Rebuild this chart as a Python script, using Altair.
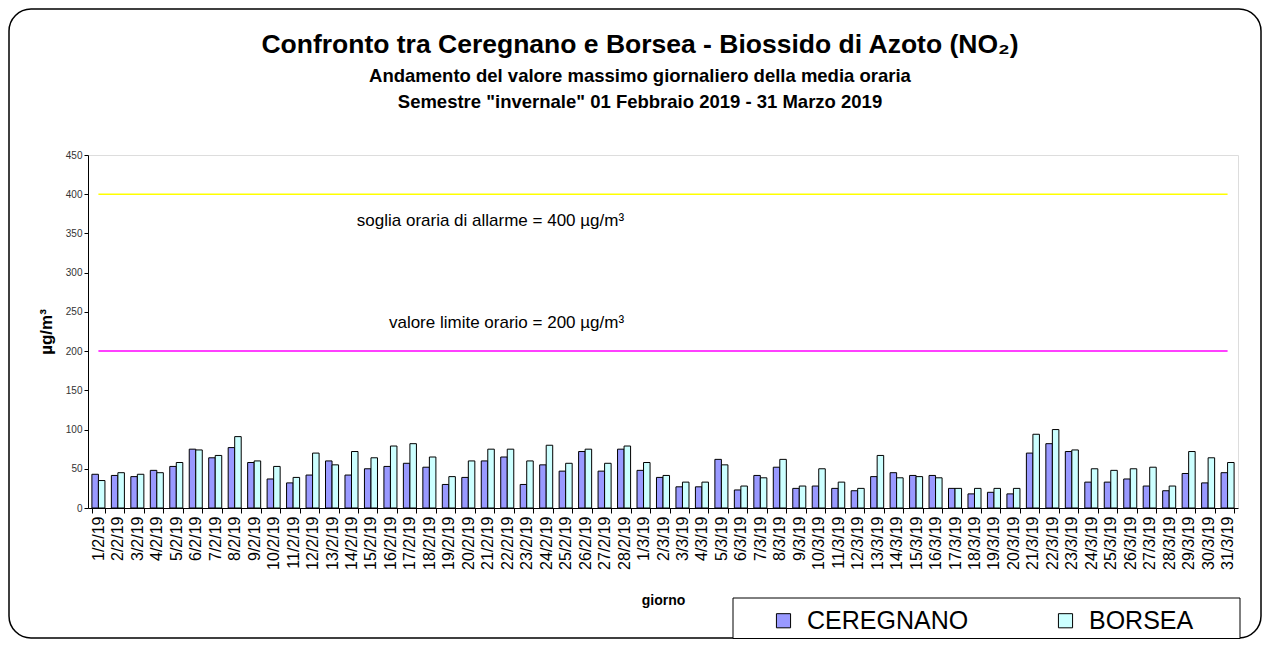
import altair as alt
import pandas as pd

days = ["1/2/19", "2/2/19", "3/2/19", "4/2/19", "5/2/19", "6/2/19", "7/2/19", "8/2/19", "9/2/19", "10/2/19",
        "11/2/19", "12/2/19", "13/2/19", "14/2/19", "15/2/19", "16/2/19", "17/2/19", "18/2/19", "19/2/19", "20/2/19",
        "21/2/19", "22/2/19", "23/2/19", "24/2/19", "25/2/19", "26/2/19", "27/2/19", "28/2/19",
        "1/3/19", "2/3/19", "3/3/19", "4/3/19", "5/3/19", "6/3/19", "7/3/19", "8/3/19", "9/3/19", "10/3/19",
        "11/3/19", "12/3/19", "13/3/19", "14/3/19", "15/3/19", "16/3/19", "17/3/19", "18/3/19", "19/3/19", "20/3/19",
        "21/3/19", "22/3/19", "23/3/19", "24/3/19", "25/3/19", "26/3/19", "27/3/19", "28/3/19", "29/3/19", "30/3/19",
        "31/3/19"]

ceregnano = [43, 41.5, 40, 48, 53, 75, 64, 77, 58, 37,
             32, 42, 60, 42, 50, 53, 57, 52, 30, 39,
             60, 65, 30, 55, 47, 72, 47, 75,
             48, 39, 27, 27, 62, 23, 41.5, 52, 25, 28,
             25, 22, 40, 45, 41.5, 41.5, 25, 18, 20, 18,
             70, 82, 72, 33, 33, 37, 28, 22, 44, 32,
             45]

borsea = [35, 45, 43, 45, 58, 74, 67, 91, 60, 53,
          39, 70, 55, 72, 64, 79, 82, 65, 40, 60,
          75, 75, 60, 80, 57, 75, 57, 79,
          58, 41.5, 33, 33, 55, 28, 38.5, 62, 28, 50,
          33, 25, 67, 38.5, 40, 38.5, 25, 25, 25, 25,
          94, 100, 74, 50, 48, 50, 52, 28, 72, 64,
          58]

series = ["CEREGNANO", "BORSEA"]
colors = ["#9999FF", "#CCFFFF"]

thresholds = [400, 200]
threshold_colors = ["#FFFF00", "#FF00FF"]
annotations = ["soglia oraria di allarme = 400 µg/m³", "valore limite orario = 200 µg/m³"]
annotation_y = [366, 236]
annotation_day = "28/2/19"
y_ticks = [0, 50, 100, 150, 200, 250, 300, 350, 400, 450]

rows = []
for d, c, b in zip(days, ceregnano, borsea):
    rows.append({"giorno": d, "stazione": series[0], "valore": c})
    rows.append({"giorno": d, "stazione": series[1], "valore": b})
df = pd.DataFrame(rows)

thr_rows = []
for t, col in zip(thresholds, threshold_colors):
    thr_rows.append({"giorno": days[0], "valore": t, "col": col, "id": str(t)})
    thr_rows.append({"giorno": days[-1], "valore": t, "col": col, "id": str(t)})
thr_df = pd.DataFrame(thr_rows)

ann_df = pd.DataFrame({"giorno": [annotation_day] * 2, "valore": annotation_y, "testo": annotations})

W, H = 1150, 353
FONT = "Liberation Sans"

xscale = alt.Scale(domain=days, paddingInner=0.33, paddingOuter=0.2)
yscale = alt.Scale(domain=[0, 450])

xaxis = alt.Axis(title="giorno", labelAngle=-90, labelFontSize=16, labelColor="black",
                 tickBand="extent", tickSize=5, tickColor="black", domainColor="black",
                 titleFontSize=14, titleFontWeight="bold", titlePadding=24, titleColor="black",
                 labelPadding=3, labelFont=FONT, titleFont=FONT, labelOverlap=False)
yaxis = alt.Axis(title="µg/m³", values=y_ticks, grid=False, labelOverlap=False,
                 labelFontSize=10, labelColor="#333333", tickSize=4, tickColor="black",
                 domainColor="black", titleFontSize=17, titleFontWeight="bold",
                 titlePadding=10, labelFont=FONT, titleFont=FONT, titleColor="black")

X = alt.X("giorno:N", scale=xscale, sort=days, axis=xaxis)
Y = alt.Y("valore:Q", scale=yscale, axis=yaxis)

bars = alt.Chart(df).mark_bar(stroke="black", strokeWidth=1).encode(
    x=X,
    xOffset=alt.XOffset("stazione:N", sort=series, scale=alt.Scale(paddingInner=0, paddingOuter=0)),
    y=Y,
    fill=alt.Fill("stazione:N", sort=series, scale=alt.Scale(domain=series, range=colors),
                  legend=alt.Legend(title=None, orient="none", legendX=683, legendY=453,
                                    direction="horizontal", columns=2, columnPadding=84,
                                    symbolType="square", symbolSize=200, symbolStrokeColor="black",
                                    symbolStrokeWidth=1, labelFontSize=25, labelFont=FONT,
                                    labelColor="black", labelOffset=11, padding=0,
                                    labelLimit=300)),
)

lines = alt.Chart(thr_df).mark_line(strokeWidth=1.5).encode(
    x=X, y=Y,
    detail="id:N",
    color=alt.Color("col:N", scale=None),
)

texts = alt.Chart(ann_df).mark_text(align="right", baseline="middle", fontSize=17, font=FONT,
                                    color="black").encode(
    x=X, y=Y,
    text="testo:N",
)

legend_box = alt.Chart(alt.Data(values=[{"a": 1}])).mark_rect(
    fill="white", stroke="black", strokeWidth=1).encode(
    x=alt.value(645), x2=alt.value(1152), y=alt.value(443), y2=alt.value(483.5))

outer = alt.Chart(alt.Data(values=[{"a": 1}])).mark_rect(
    filled=False, stroke="black", strokeWidth=1.5, cornerRadius=22).encode(
    x=alt.value(-79), x2=alt.value(1173), y=alt.value(-146), y2=alt.value(483))

chart = alt.layer(bars, outer, legend_box, lines, texts).properties(
    width=W, height=H,
    title=alt.TitleParams(
        text="Confronto tra Ceregnano e Borsea - Biossido di Azoto (NO₂)",
        subtitle=["Andamento del valore massimo giornaliero della media oraria",
                  "Semestre \"invernale\" 01 Febbraio 2019 - 31 Marzo 2019"],
        anchor="middle", frame="group", fontSize=26.5, font=FONT, fontWeight="bold", color="black",
        subtitleFont=FONT, subtitleFontSize=18.5, subtitleFontWeight="bold", subtitleColor="black",
        subtitleLineHeight=26, subtitlePadding=8, offset=-103, dx=-23),
    padding={"left": 80, "top": 147, "right": 24, "bottom": 131},
    autosize=alt.AutoSizeParams(type="none"),
).configure_view(stroke="#888888", strokeWidth=1.5).configure_axis(
    labelOverlap=False, labelFont=FONT, titleFont=FONT
).configure(background="white")

chart.save("out.html", embed_options={"renderer": "svg", "actions": False})
